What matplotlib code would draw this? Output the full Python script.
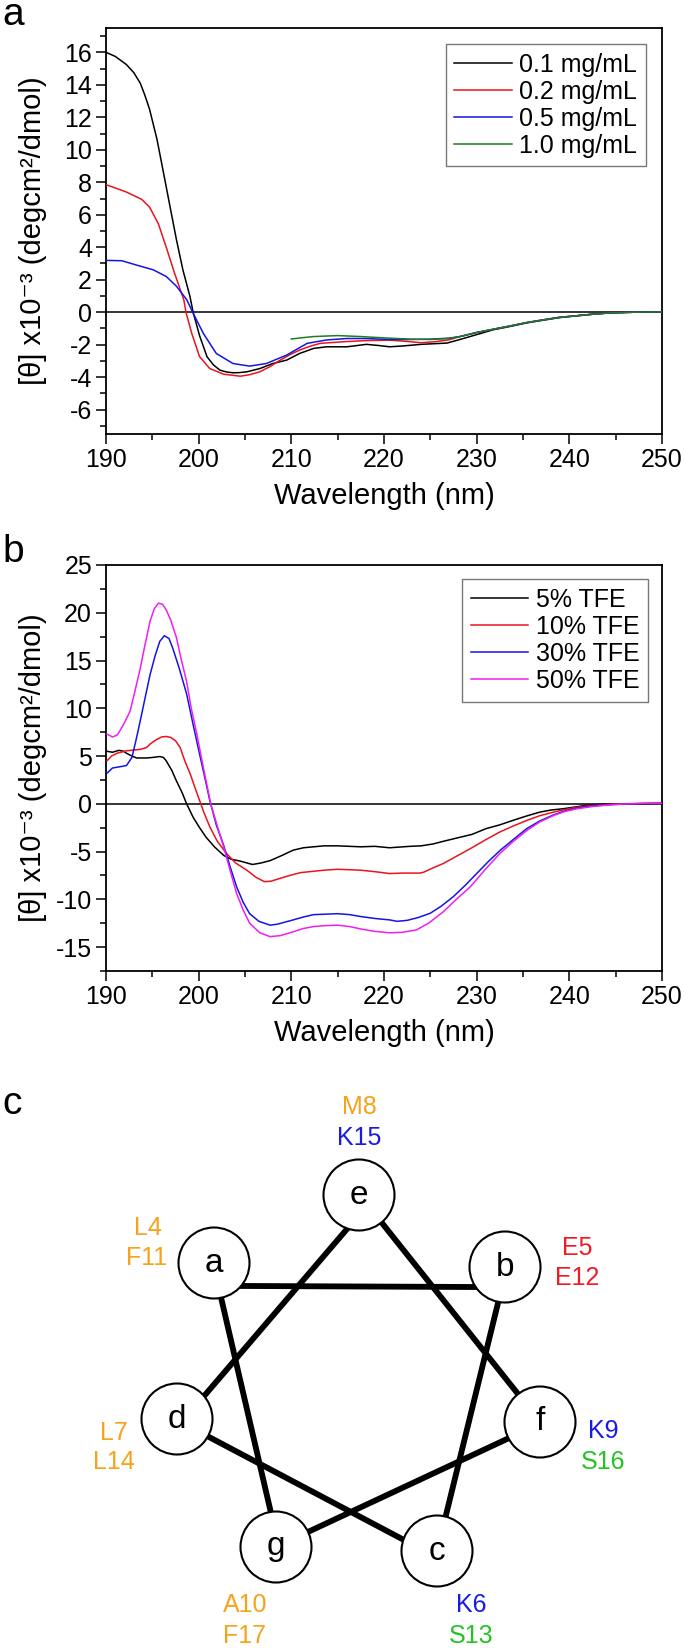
import matplotlib
matplotlib.use("Agg")
import matplotlib.pyplot as plt
from matplotlib.patches import Circle
from matplotlib.ticker import MultipleLocator
import numpy as np

plt.rcParams['font.family'] = ['Liberation Sans', 'DejaVu Sans']
plt.rcParams['axes.unicode_minus'] = False

# ---------------- Panel a data ----------------
a_labels = ['0.1 mg/mL', '0.2 mg/mL', '0.5 mg/mL', '1.0 mg/mL']
a_colors = ['#000000', '#e8141c', '#1414e6', '#1e7d1e']

a_wl_01 = [190, 191, 192.2, 193, 193.7, 194.2, 194.7, 195.5, 196.2, 196.9, 197.6, 198.3, 199.06, 199.4,
           200.1, 200.9, 201.6, 202.3, 203, 203.7, 204.4, 205.2, 206.6, 208, 209.5, 210.9, 212.4, 213.8,
           216, 218.1, 219.4, 220.6, 222, 224, 226.8, 228.2, 230, 231.8, 233.6, 235.4, 237.2, 239, 240.8,
           242.6, 244.4, 247, 250]
a_th_01 = [16.0, 15.75, 15.25, 14.75, 14.1, 13.35, 12.5, 10.65, 8.6, 6.53, 4.47, 2.6, 0.97, 0.0,
           -1.45, -2.74, -3.25, -3.57, -3.68, -3.73, -3.72, -3.67, -3.47, -3.16, -2.95, -2.54, -2.23, -2.13,
           -2.13, -1.98, -2.05, -2.13, -2.08, -1.98, -1.9, -1.68, -1.38, -1.08, -0.88, -0.66, -0.49, -0.33,
           -0.22, -0.12, -0.04, 0.0, 0.02]

a_wl_02 = [190, 191, 192.2, 193.85, 194.7, 195.65, 196.5, 197.4, 198.4, 198.63, 199.25, 200.1, 201.2,
           202.7, 204.5, 205.5, 206.6, 207.7, 208.8, 209.9, 210.9, 212, 213.1, 215.6, 218, 220.6, 222.5,
           224, 225.5, 227, 228.2, 230, 231.8, 233.6, 235.4, 237.2, 239, 240.8, 242.6, 244.4, 247, 250]
a_th_02 = [7.85, 7.65, 7.4, 6.95, 6.47, 5.45, 4.0, 2.4, 0.76, 0.0, -1.3, -2.74, -3.47,
           -3.82, -3.94, -3.85, -3.67, -3.35, -2.95, -2.6, -2.33, -2.1, -1.92, -1.82, -1.75, -1.72, -1.8,
           -1.88, -1.82, -1.7, -1.5, -1.25, -1.05, -0.85, -0.64, -0.47, -0.31, -0.22, -0.12, -0.04, 0.0, 0.02]

a_wl_05 = [190, 191.7, 193.3, 195.1, 196.5, 197.6, 198.7, 199.35, 200.5, 201.9, 203.7, 205.5, 207.3,
           209.5, 211.7, 213.8, 216, 218, 220.6, 223, 225, 227, 228.2,
           230, 231.8, 233.6, 235.4, 237.2, 239, 240.8, 242.6, 244.4, 247, 250]
a_th_05 = [3.19, 3.17, 2.9, 2.61, 2.2, 1.6, 0.78, 0.0, -1.3, -2.54, -3.16, -3.32, -3.16,
           -2.64, -1.92, -1.71, -1.62, -1.62, -1.68, -1.68, -1.66, -1.6, -1.5,
           -1.25, -1.05, -0.85, -0.64, -0.47, -0.31, -0.22, -0.12, -0.04, 0.0, 0.02]

a_wl_10 = [210, 211.2, 212.4, 215, 217.5, 220.6, 223, 225, 227, 228.2,
           230, 231.8, 233.6, 235.4, 237.2, 239, 240.8, 242.6, 244.4, 247, 250]
a_th_10 = [-1.65, -1.57, -1.5, -1.44, -1.5, -1.6, -1.66, -1.68, -1.62, -1.5,
           -1.25, -1.05, -0.85, -0.64, -0.47, -0.31, -0.22, -0.12, -0.04, 0.0, 0.02]

# ---------------- Panel b data ----------------
b_labels = ['5% TFE', '10% TFE', '30% TFE', '50% TFE']
b_colors = ['#000000', '#e8141c', '#1414e6', '#f01ef0']

b_wl_5 = [190.1, 190.7, 191.4, 191.9, 192.2, 192.8, 193.3, 194.4, 195, 195.8, 196.2, 196.5, 197.1, 197.6,
          198.2, 198.7, 199.4, 200.1, 200.8, 201.7, 202.7, 203.5, 204.5, 205.8, 206.7, 207.7, 209, 210.2,
          211.3, 212.4, 213.5, 215, 216.3, 217.5, 219, 220.6, 222.8, 224, 225.3, 226.5, 228.2, 229.5,
          231, 232.5, 233.9, 235.3, 236.8, 238, 239.3, 240.5, 241.7, 243, 244.4, 247, 250]
b_th_5 = [5.5, 5.4, 5.6, 5.5, 5.3, 5.0, 4.8, 4.8, 4.85, 4.95, 4.85, 4.5, 3.5, 2.4,
          1.2, 0.0, -1.4, -2.5, -3.5, -4.5, -5.4, -5.8, -6.0, -6.35, -6.2, -5.95, -5.4, -4.85,
          -4.6, -4.5, -4.4, -4.4, -4.45, -4.5, -4.45, -4.6, -4.45, -4.4, -4.2, -3.9, -3.5, -3.2,
          -2.6, -2.2, -1.74, -1.3, -0.87, -0.65, -0.52, -0.35, -0.17, -0.08, 0.0, 0.0, 0.05]

b_wl_10 = [190.1, 190.6, 191.2, 192.2, 193.7, 194.4, 194.75, 195.4, 196, 196.5, 197, 197.5, 198, 198.5,
           199.1, 199.6, 200.1, 200.6, 201.2, 202, 203, 204, 205.2, 206.2, 207.1, 207.8, 208.8, 210,
           211, 212, 213.5, 215, 216.3, 217.5, 219, 220.6, 222, 223.9, 224.3, 225.3, 226.4, 227.8,
           229.3, 230.9, 232.5, 234, 235.4, 236.8, 238.3, 239.5, 240.8, 242.2, 243.7, 245, 247, 250]
b_th_10 = [4.5, 5.0, 5.3, 5.55, 5.7, 5.9, 6.25, 6.7, 7.0, 7.05, 6.95, 6.6, 5.9, 4.5,
           3.1, 1.7, 0.35, -1.0, -2.4, -3.9, -5.2, -6.2, -6.95, -7.7, -8.15, -8.1, -7.8, -7.45,
           -7.2, -7.1, -6.95, -6.85, -6.9, -6.95, -7.1, -7.3, -7.25, -7.25, -7.15, -6.7, -6.25, -5.5,
           -4.7, -3.8, -2.95, -2.3, -1.74, -1.25, -0.87, -0.6, -0.35, -0.2, -0.1, 0.0, 0.02, 0.05]

b_wl_30 = [190.1, 190.7, 191.6, 192.2, 192.8, 193.2, 193.7, 194.2, 194.75, 195.3, 195.8, 196.3, 196.8,
           197.2, 197.9, 198.7, 199.4, 200.1, 200.7, 201.2, 201.9, 202.7, 203.4, 204.1, 204.8, 205.5,
           206.5, 207.7, 208.5, 210.2, 211.3, 212.4, 213.7, 215, 216.3, 217.5, 219, 220.6, 221.4, 222.5,
           223.7, 225, 226.2, 227.5, 228.8, 230, 231.2, 232.5, 234, 235.4, 236.8, 238.3, 239.5, 240.8,
           242.5, 244.4, 246, 250]
b_th_30 = [3.2, 3.75, 3.9, 4.0, 4.85, 6.5, 8.7, 11.0, 13.5, 15.5, 17.0, 17.6, 17.3,
           16.3, 14.2, 11.5, 8.3, 5.2, 2.6, 0.35, -2.2, -4.35, -6.6, -8.7, -10.3, -11.5,
           -12.3, -12.7, -12.6, -12.15, -11.85, -11.6, -11.55, -11.5, -11.6, -11.8, -12.0, -12.15, -12.3, -12.2,
           -11.9, -11.45, -10.7, -9.7, -8.5, -7.3, -6.1, -4.9, -3.7, -2.6, -1.8, -1.16, -0.75, -0.45,
           -0.22, -0.1, 0.0, 0.05]

b_wl_50 = [190.1, 190.7, 191.2, 191.6, 192.1, 192.6, 193.1, 193.7, 194.2, 194.75, 195.2, 195.65, 196.1,
           196.5, 197, 197.6, 198.1, 198.7, 199.2, 199.8, 200.3, 200.8, 201.3, 202, 202.7, 203.4, 204.1,
           204.8, 205.5, 206.6, 207.7, 208.8, 210.2, 211.3, 212.4, 213.7, 215, 216.3, 217.5, 219, 220.6,
           222, 223.5, 224.8, 226.4, 227.8, 229.3, 230.9, 232.5, 234, 235.4, 236.8, 238.3, 239.5, 240.8,
           242.5, 244.4, 246, 248, 250]
b_th_50 = [7.3, 7.0, 7.2, 7.8, 8.7, 9.7, 11.7, 14.2, 16.6, 19.1, 20.4, 21.0, 20.9,
           20.3, 19.2, 17.4, 15.2, 12.8, 10.0, 7.3, 4.8, 2.4, 0.0, -2.3, -4.5, -7.0, -9.4,
           -11.1, -12.5, -13.5, -13.9, -13.8, -13.4, -13.05, -12.85, -12.75, -12.7, -12.85, -13.1, -13.35, -13.5,
           -13.45, -13.2, -12.5, -11.3, -10.0, -8.7, -6.9, -5.2, -3.9, -2.8, -1.9, -1.22, -0.8, -0.52,
           -0.28, -0.1, -0.02, 0.05, 0.05]

# ---------------- Panel c data ----------------
wheel_letters = ['e', 'a', 'b', 'd', 'f', 'g', 'c']
wheel_x = [359, 214, 505, 177, 540, 276, 437]
wheel_y = [1195, 1263, 1267, 1419, 1422, 1547, 1551]
# helix connections: (from node, to node) and where the bars leave/meet the circles
seg_from = ['a', 'e', 'e', 'b', 'a', 'd', 'f']
seg_to = ['b', 'd', 'f', 'c', 'g', 'c', 'g']
seg_x0 = [250, 335, 382, 498, 223, 209, 507]
seg_y0 = [1286, 1243, 1223, 1303, 1306, 1437, 1439]
seg_x1 = [470, 199, 518, 446, 271, 404, 310]
seg_y1 = [1287, 1402, 1394, 1515, 1513, 1540, 1531]

res_text = ['M8', 'K15', 'L4', 'F11', 'E5', 'E12', 'L7', 'L14', 'K9', 'S16', 'A10', 'F17', 'K6', 'S13']
res_x = [359, 359, 148, 147, 577, 577, 114, 114, 603, 603, 245, 245, 471, 471]
res_y = [1107, 1138, 1228, 1258, 1248, 1278, 1433, 1462, 1431, 1462, 1605, 1636, 1605, 1636]
ORANGE, BLUE, RED, GREEN = '#f7a21b', '#1a1ae6', '#ee1c24', '#22c322'
res_col = [ORANGE, BLUE, ORANGE, ORANGE, RED, RED, ORANGE, ORANGE, BLUE, GREEN, ORANGE, ORANGE, BLUE, GREEN]

Y_LABEL = '[θ] x10⁻³ (degcm²/dmol)'

W, H = 685, 1648
fig = plt.figure(figsize=(W / 100, H / 100), dpi=100)


def style_axes(ax, ymin, ymax, ymaj, ymin_step):
    ax.set_xlim(190, 250)
    ax.set_ylim(ymin, ymax)
    ax.xaxis.set_major_locator(MultipleLocator(10))
    ax.xaxis.set_minor_locator(MultipleLocator(5))
    ax.yaxis.set_major_locator(MultipleLocator(ymaj))
    ax.yaxis.set_minor_locator(MultipleLocator(ymin_step))
    ax.tick_params(which='both', direction='out', top=False, right=False, width=1.1)
    ax.tick_params(which='major', length=7, labelsize=18)
    ax.tick_params(which='minor', length=4)
    ax.tick_params(axis='x', pad=3)
    ax.tick_params(axis='y', pad=3)
    for s in ax.spines.values():
        s.set_linewidth(1.3)
    ax.axhline(0, color='black', lw=1.1, zorder=1)
    ax.set_xlabel('Wavelength (nm)', fontsize=21)
    ax.xaxis.set_label_coords(0.5, -62 / 406)
    ax.xaxis.label.set_va('center')
    ax.set_ylabel(Y_LABEL, fontsize=21)
    ax.yaxis.set_label_coords(-73 / 556, 0.5)
    ax.yaxis.label.set_va('center')


def add_legend(ax, anchor):
    leg = ax.legend(loc='upper right', bbox_to_anchor=anchor, borderaxespad=0, fontsize=18,
                    handlelength=2.3, handletextpad=0.3, labelspacing=0.12, borderpad=0.35,
                    frameon=True, fancybox=False, edgecolor='#555555')
    leg.get_frame().set_linewidth(1.0)


# Panel a
ax_a = fig.add_axes([106 / W, 1 - 434 / H, 556 / W, 406 / H])
for wl, th, c, lab in zip([a_wl_01, a_wl_02, a_wl_05, a_wl_10], [a_th_01, a_th_02, a_th_05, a_th_10],
                          a_colors, a_labels):
    ax_a.plot(wl, th, color=c, lw=1.1, label=lab, zorder=3)
style_axes(ax_a, -7.5, 17.5, 2, 1)
add_legend(ax_a, (0.971, 0.961))

# Panel b
ax_b = fig.add_axes([106 / W, 1 - 971 / H, 556 / W, 406 / H])
for wl, th, c, lab in zip([b_wl_5, b_wl_10, b_wl_30, b_wl_50], [b_th_5, b_th_10, b_th_30, b_th_50],
                          b_colors, b_labels):
    ax_b.plot(wl, th, color=c, lw=1.1, label=lab, zorder=3)
style_axes(ax_b, -17.5, 25, 5, 2.5)
add_legend(ax_b, (0.975, 0.9655))

# Panel c (pixel coordinates)
R = 35.5
ax_c = fig.add_axes([0, 0, 1, 568 / H])
ax_c.set_xlim(0, W)
ax_c.set_ylim(H, 1080)
ax_c.axis('off')
centers = {k: np.array([x, y], float) for k, x, y in zip(wheel_letters, wheel_x, wheel_y)}


def tuck(p, d, c):
    # slide an end point along the bar direction so it tucks under its circle
    w = p - c
    t = -np.dot(w, d)
    return p + t * d


for n0, n1, x0, y0, x1, y1 in zip(seg_from, seg_to, seg_x0, seg_y0, seg_x1, seg_y1):
    p0 = np.array([x0, y0], float)
    p1 = np.array([x1, y1], float)
    d = (p1 - p0) / np.linalg.norm(p1 - p0)
    q0 = tuck(p0, d, centers[n0])
    q1 = tuck(p1, d, centers[n1])
    ax_c.plot([q0[0], q1[0]], [q0[1], q1[1]], color='black', lw=4.2, solid_capstyle='butt', zorder=1)
for lt, x, y in zip(wheel_letters, wheel_x, wheel_y):
    ax_c.add_patch(Circle((x, y), R, facecolor='white', edgecolor='black', lw=1.5, zorder=2))
    ax_c.text(x, y, lt, ha='center', va='center', fontsize=24, zorder=3)
for t, x, y, c in zip(res_text, res_x, res_y, res_col):
    ax_c.text(x, y, t, ha='center', va='center', fontsize=18, color=c)

# Panel letters
fig.text(2 / W, 1 - 25 / H, 'a', fontsize=28, va='baseline', ha='left')
fig.text(2 / W, 1 - 562 / H, 'b', fontsize=28, va='baseline', ha='left')
fig.text(2 / W, 1 - 1114 / H, 'c', fontsize=28, va='baseline', ha='left')

fig.savefig('out.png', dpi=100)
